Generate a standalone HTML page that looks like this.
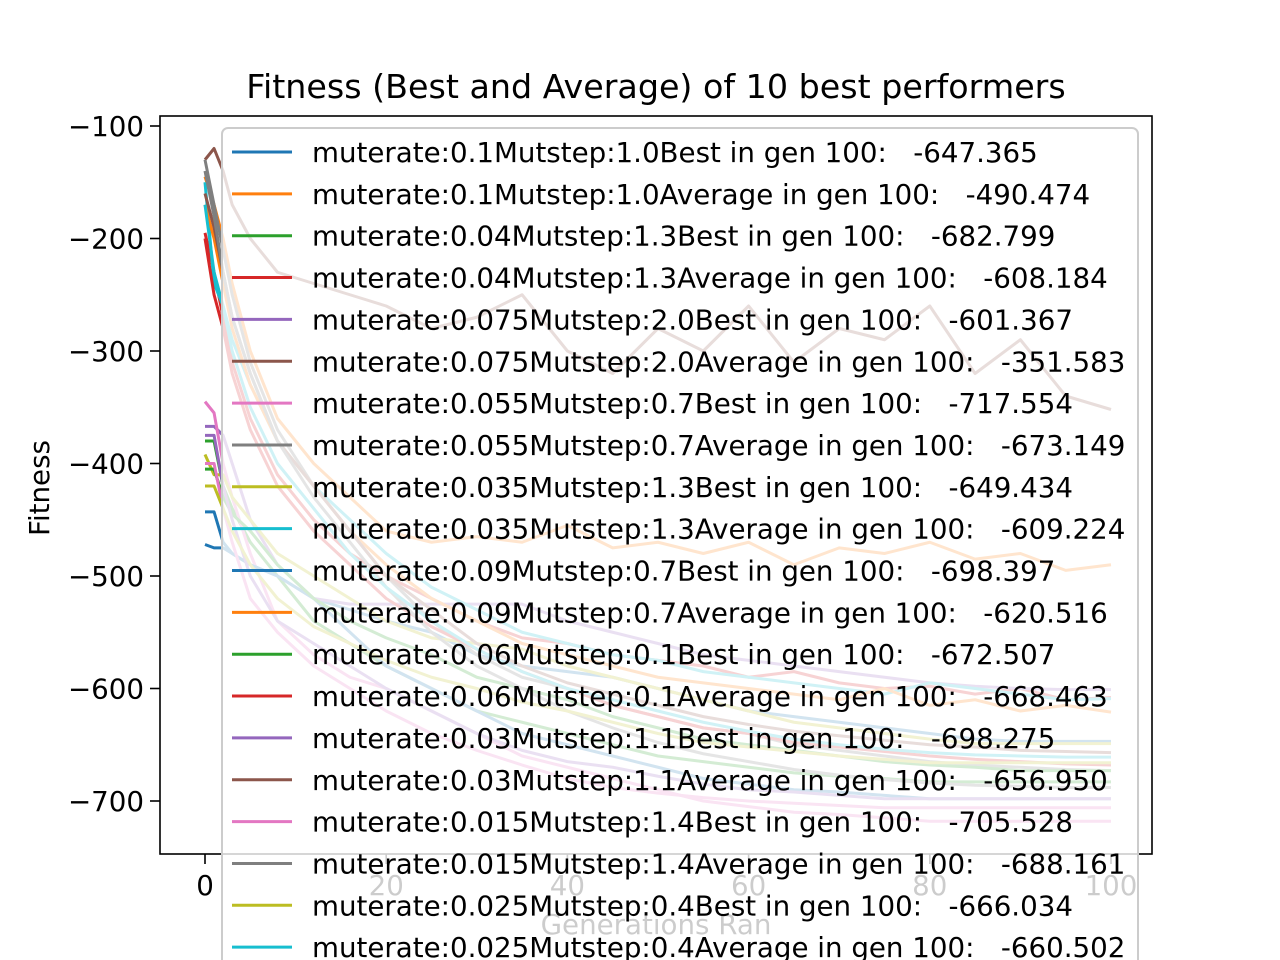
<!DOCTYPE html>
<html><head><meta charset="utf-8"><style>
html,body{margin:0;padding:0;background:#fff;width:1280px;height:960px;overflow:hidden}
svg text{font-family:"DejaVu Sans","Liberation Sans",sans-serif;fill:#000}
</style></head><body>
<svg id="chart" xmlns="http://www.w3.org/2000/svg" width="1280" height="960" viewBox="0 0 1280 960">
<defs><clipPath id="plotclip"><rect x="160" y="116" width="992" height="738"/></clipPath></defs>
<rect width="1280" height="960" fill="#fff"/>
<text x="656" y="98" font-size="33.3" text-anchor="middle">Fitness (Best and Average) of 10 best performers</text>
<g id="series" clip-path="url(#plotclip)"></g>
<rect x="160" y="116" width="992" height="738" fill="none" stroke="#000" stroke-width="1.6"/>
<g id="axes"></g>
<text transform="translate(49,488) rotate(-90)" font-size="27.7" text-anchor="middle">Fitness</text>
<text x="656" y="934" font-size="27.7" text-anchor="middle">Generations Ran</text>
<g id="legend"></g>
</svg>
<script>
const gens = [0,1,2,3,5,8,12,16,20,25,30,35,40,45,50,55,60,65,70,75,80,85,90,95,100];
const s0 = [-443,-443,-470,-480,-490,-500,-520,-530,-540,-550,-570,-580,-585,-590,-600,-610,-620,-625,-630,-635,-640,-645,-647,-647,-647];
const s1 = [-145,-170,-200,-240,-300,-360,-400,-430,-460,-470,-465,-470,-455,-475,-470,-480,-470,-490,-475,-480,-470,-485,-480,-495,-490];
const s2 = [-380,-380,-420,-440,-470,-500,-540,-560,-580,-600,-620,-630,-640,-650,-660,-665,-670,-675,-678,-680,-683,-683,-683,-683,-683];
const s3 = [-195,-230,-270,-310,-360,-410,-450,-480,-500,-520,-540,-555,-560,-570,-575,-580,-590,-585,-595,-600,-598,-605,-600,-610,-608];
const s4 = [-367,-367,-375,-400,-450,-490,-520,-525,-525,-525,-525,-525,-540,-550,-560,-570,-575,-580,-585,-590,-595,-598,-600,-601,-601];
const s5 = [-130,-120,-140,-170,-200,-230,-240,-250,-260,-280,-270,-250,-300,-320,-280,-300,-260,-310,-280,-290,-260,-320,-290,-340,-352];
const s6 = [-345,-355,-400,-430,-480,-540,-570,-590,-600,-620,-640,-660,-670,-680,-690,-700,-705,-710,-712,-715,-718,-718,-718,-718,-718];
const s7 = [-130,-170,-210,-250,-310,-370,-420,-460,-500,-540,-570,-590,-600,-615,-625,-635,-640,-650,-655,-660,-665,-668,-670,-672,-673];
const s8 = [-392,-410,-410,-430,-450,-480,-500,-520,-540,-555,-560,-565,-580,-590,-600,-610,-620,-630,-635,-640,-645,-649,-649,-649,-649];
const s9 = [-150,-240,-260,-290,-330,-380,-420,-450,-480,-510,-530,-550,-560,-570,-575,-585,-590,-595,-600,-605,-595,-600,-605,-610,-609];
const s10 = [-472,-475,-475,-480,-490,-500,-520,-550,-580,-600,-620,-640,-650,-660,-670,-680,-685,-690,-692,-695,-698,-698,-698,-698,-698];
const s11 = [-170,-200,-240,-280,-330,-380,-420,-460,-490,-520,-540,-560,-570,-580,-590,-595,-600,-605,-610,-600,-615,-610,-620,-615,-621];
const s12 = [-405,-405,-430,-445,-460,-490,-520,-540,-555,-570,-590,-600,-610,-625,-635,-645,-650,-655,-660,-665,-668,-670,-673,-673,-673];
const s13 = [-200,-250,-280,-320,-370,-420,-460,-490,-520,-545,-565,-585,-600,-615,-625,-635,-640,-648,-652,-656,-660,-663,-665,-667,-668];
const s14 = [-375,-375,-420,-450,-500,-540,-560,-580,-600,-620,-640,-655,-665,-670,-678,-685,-690,-692,-695,-698,-698,-698,-698,-698,-698];
const s15 = [-160,-190,-230,-270,-320,-380,-420,-460,-500,-530,-560,-580,-595,-605,-615,-625,-632,-638,-642,-646,-650,-652,-655,-656,-657];
const s16 = [-400,-400,-440,-470,-520,-550,-580,-600,-620,-640,-655,-668,-680,-688,-693,-697,-700,-702,-704,-706,-706,-706,-706,-706,-706];
const s17 = [-140,-180,-230,-270,-320,-380,-430,-470,-510,-550,-580,-600,-620,-635,-648,-658,-665,-672,-677,-681,-684,-686,-687,-688,-688];
const s18 = [-420,-420,-440,-460,-490,-520,-545,-560,-575,-590,-600,-612,-620,-630,-640,-648,-652,-656,-660,-663,-666,-666,-666,-666,-666];
const s19 = [-170,-230,-260,-300,-350,-400,-440,-480,-510,-540,-565,-585,-600,-610,-620,-630,-638,-645,-650,-654,-657,-659,-660,-661,-661];
const allSeries = [s0,s1,s2,s3,s4,s5,s6,s7,s8,s9,s10,s11,s12,s13,s14,s15,s16,s17,s18,s19];
const labels = [
"muterate:0.1Mutstep:1.0Best in gen 100:   -647.365",
"muterate:0.1Mutstep:1.0Average in gen 100:   -490.474",
"muterate:0.04Mutstep:1.3Best in gen 100:   -682.799",
"muterate:0.04Mutstep:1.3Average in gen 100:   -608.184",
"muterate:0.075Mutstep:2.0Best in gen 100:   -601.367",
"muterate:0.075Mutstep:2.0Average in gen 100:   -351.583",
"muterate:0.055Mutstep:0.7Best in gen 100:   -717.554",
"muterate:0.055Mutstep:0.7Average in gen 100:   -673.149",
"muterate:0.035Mutstep:1.3Best in gen 100:   -649.434",
"muterate:0.035Mutstep:1.3Average in gen 100:   -609.224",
"muterate:0.09Mutstep:0.7Best in gen 100:   -698.397",
"muterate:0.09Mutstep:0.7Average in gen 100:   -620.516",
"muterate:0.06Mutstep:0.1Best in gen 100:   -672.507",
"muterate:0.06Mutstep:0.1Average in gen 100:   -668.463",
"muterate:0.03Mutstep:1.1Best in gen 100:   -698.275",
"muterate:0.03Mutstep:1.1Average in gen 100:   -656.950",
"muterate:0.015Mutstep:1.4Best in gen 100:   -705.528",
"muterate:0.015Mutstep:1.4Average in gen 100:   -688.161",
"muterate:0.025Mutstep:0.4Best in gen 100:   -666.034",
"muterate:0.025Mutstep:0.4Average in gen 100:   -660.502"];
const xTicks = [0,20,40,60,80,100];
const yTicks = [-100,-200,-300,-400,-500,-600,-700];

const colors = ["#1f77b4","#ff7f0e","#2ca02c","#d62728","#9467bd","#8c564b","#e377c2","#7f7f7f","#bcbd22","#17becf"];
const NS = "http://www.w3.org/2000/svg";
const X = v => 205 + v * 9.06;
const Y = v => 126 - (v + 100) * (675 / 600);

const sg = document.getElementById("series");
allSeries.forEach((s, i) => {
  const p = document.createElementNS(NS, "polyline");
  p.setAttribute("points", s.map((v, j) => X(gens[j]) + "," + Y(v)).join(" "));
  p.setAttribute("fill", "none");
  p.setAttribute("stroke", colors[i % 10]);
  p.setAttribute("stroke-width", "3");
  p.setAttribute("stroke-linejoin", "round");
  
  
  sg.appendChild(p);
});

const ax = document.getElementById("axes");
xTicks.forEach(t => {
  const l = document.createElementNS(NS, "line");
  l.setAttribute("x1", X(t)); l.setAttribute("x2", X(t));
  l.setAttribute("y1", 854); l.setAttribute("y2", 864);
  l.setAttribute("stroke", "#000"); l.setAttribute("stroke-width", "1.6");
  
  
  ax.appendChild(l);
  const tx = document.createElementNS(NS, "text");
  tx.setAttribute("x", X(t)); tx.setAttribute("y", 895);
  tx.setAttribute("font-size", "27.7"); tx.setAttribute("text-anchor", "middle");
  tx.textContent = t;
  
  
  ax.appendChild(tx);
});
yTicks.forEach(t => {
  const l = document.createElementNS(NS, "line");
  l.setAttribute("x1", 150); l.setAttribute("x2", 160);
  l.setAttribute("y1", Y(t)); l.setAttribute("y2", Y(t));
  l.setAttribute("stroke", "#000"); l.setAttribute("stroke-width", "1.6");
  
  
  ax.appendChild(l);
  const tx = document.createElementNS(NS, "text");
  tx.setAttribute("x", 144); tx.setAttribute("y", Y(t) + 10);
  tx.setAttribute("font-size", "27.7"); tx.setAttribute("text-anchor", "end");
  tx.textContent = "\u2212" + Math.abs(t);
  
  
  ax.appendChild(tx);
});

const lg = document.getElementById("legend");
const box = document.createElementNS(NS, "rect");
box.setAttribute("x", 222); box.setAttribute("y", 128);
box.setAttribute("width", 916); box.setAttribute("height", 860);
box.setAttribute("rx", 6);
box.setAttribute("fill", "rgba(255,255,255,0.8)");
box.setAttribute("stroke", "#cccccc"); box.setAttribute("stroke-width", "2");


lg.appendChild(box);
labels.forEach((lab, i) => {
  const cy = 152 + i * 41.85;
  const l = document.createElementNS(NS, "line");
  l.setAttribute("x1", 232); l.setAttribute("x2", 292);
  l.setAttribute("y1", cy); l.setAttribute("y2", cy);
  l.setAttribute("stroke", colors[i % 10]); l.setAttribute("stroke-width", "3");
  
  
  lg.appendChild(l);
  const tx = document.createElementNS(NS, "text");
  tx.setAttribute("x", 312); tx.setAttribute("y", cy + 10);
  tx.setAttribute("font-size", "27.7");
  tx.setAttribute("xml:space", "preserve");
  tx.style.whiteSpace = "pre";
  tx.textContent = lab;
  
  
  lg.appendChild(tx);
});
</script>
</body></html>
